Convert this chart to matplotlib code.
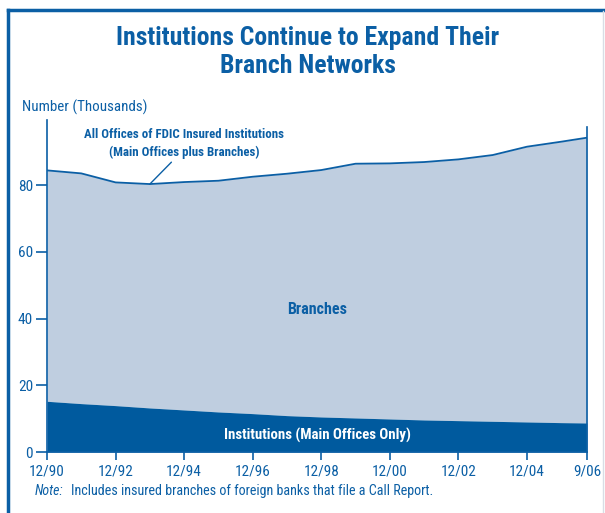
import matplotlib.pyplot as plt
from matplotlib.lines import Line2D
from matplotlib import font_manager

# FDIC offices, thousands
periods = ["12/90", "12/91", "12/92", "12/93", "12/94", "12/95", "12/96", "12/97",
           "12/98", "12/99", "12/00", "12/01", "12/02", "12/03", "12/04", "12/05", "9/06"]
years = [1990, 1991, 1992, 1993, 1994, 1995, 1996, 1997, 1998, 1999, 2000, 2001,
         2002, 2003, 2004, 2005, 2005.75]
all_offices = [84.4, 83.5, 80.8, 80.3, 80.9, 81.3, 82.5, 83.4, 84.5, 86.4, 86.5,
               86.9, 87.7, 89.0, 91.5, 93.0, 94.2]
institutions = [15.2, 14.5, 13.9, 13.2, 12.6, 12.0, 11.5, 10.9, 10.5, 10.2, 9.9,
                9.6, 9.4, 9.2, 9.0, 8.8, 8.7]
tick_labels = ["12/90", "12/92", "12/94", "12/96", "12/98", "12/00", "12/02", "12/04", "9/06"]
tick_years = [1990, 1992, 1994, 1996, 1998, 2000, 2002, 2004, 2005.75]

blue = "#0b5fa5"
dark = "#005a9e"
light = "#bfcee0"

# pick a condensed sans that ships a bold weight
fonts = font_manager.fontManager.ttflist
bold_ok = {f.name for f in fonts if (f.weight if isinstance(f.weight, int) else 400) >= 700
           or f.weight == "bold"}
wanted = ["Roboto Condensed", "Fira Sans Condensed", "Barlow Semi Condensed",
          "IBM Plex Sans Condensed", "Liberation Sans Narrow", "Archivo Narrow"]
family = [n for n in wanted if n in bold_ok][:1]
plt.rcParams['font.family'] = family + ['Roboto', 'DejaVu Sans']

fig = plt.figure(figsize=(6.05, 5.13), dpi=100)
ax = fig.add_axes([47/605, 1 - 452/513, (587 - 47)/605, (452 - 120)/513])

ax.fill_between(years, institutions, all_offices, color=light, linewidth=0)
ax.fill_between(years, 0, institutions, color=dark, linewidth=0)
ax.plot(years, all_offices, color=blue, lw=1.3)

ax.set_xlim(1990, 2005.75)
ax.set_ylim(0, 99.5)
ax.set_yticks([0, 20, 40, 60, 80])
ax.set_xticks(tick_years)
ax.set_xticklabels(tick_labels)
ax.spines["top"].set_visible(False)
for s in ["left", "bottom", "right"]:
    ax.spines[s].set_color(blue)
    ax.spines[s].set_linewidth(1.2)
ax.spines["right"].set_bounds(0, 97.5)
ax.tick_params(axis="y", direction="out", length=8, width=1.2, color=blue,
               labelcolor=blue, labelsize=11, pad=2)
ax.tick_params(axis="x", direction="out", length=6, width=1.2, color=blue,
               labelcolor=blue, labelsize=11, pad=3)

ax.text(0.5, 0.43, "Branches", transform=ax.transAxes, ha="center", va="center",
        color=blue, fontsize=11.5, fontweight="bold")
ax.text(0.5, 0.05, "Institutions (Main Offices Only)", transform=ax.transAxes,
        ha="center", va="center", color="white", fontsize=10.7, fontweight="bold")

# leader line for the total-offices label
ax.annotate("All Offices of FDIC Insured Institutions\n(Main Offices plus Branches)",
            xy=(1993, all_offices[3]), xytext=(1994.0, 92.4), ha="center", va="center",
            color=blue, fontsize=9.3, fontweight="bold", linespacing=1.5,
            arrowprops=dict(arrowstyle="-", color=blue, lw=1, shrinkA=0, shrinkB=0,
                            relpos=(0.45, 0)))

fig.text(308/605, 1 - 52/513, "Institutions Continue to Expand Their\nBranch Networks",
         ha="center", va="center", color=blue, fontsize=18.5, fontweight="bold",
         linespacing=1.2)
fig.text(22/605, 1 - 107/513, "Number (Thousands)", ha="left", va="center",
         color=blue, fontsize=10.8)
fig.text(35/605, 1 - 491/513, "Note:", ha="left", va="center", color=blue,
         fontsize=10, style="italic")
fig.text(71/605, 1 - 491/513, "Includes insured branches of foreign banks that file a Call Report.",
         ha="left", va="center", color=blue, fontsize=10.2)

# outer frame
fig.add_artist(Line2D([8/605, 8/605], [0, 1 - 10/513], color=blue, lw=2.5))
fig.add_artist(Line2D([8/605, 1], [1 - 10/513, 1 - 10/513], color=blue, lw=2.5))
fig.add_artist(Line2D([603/605, 603/605], [0, 1 - 11/513], color="#d8dde5", lw=1))

fig.savefig("out.png", dpi=100)
